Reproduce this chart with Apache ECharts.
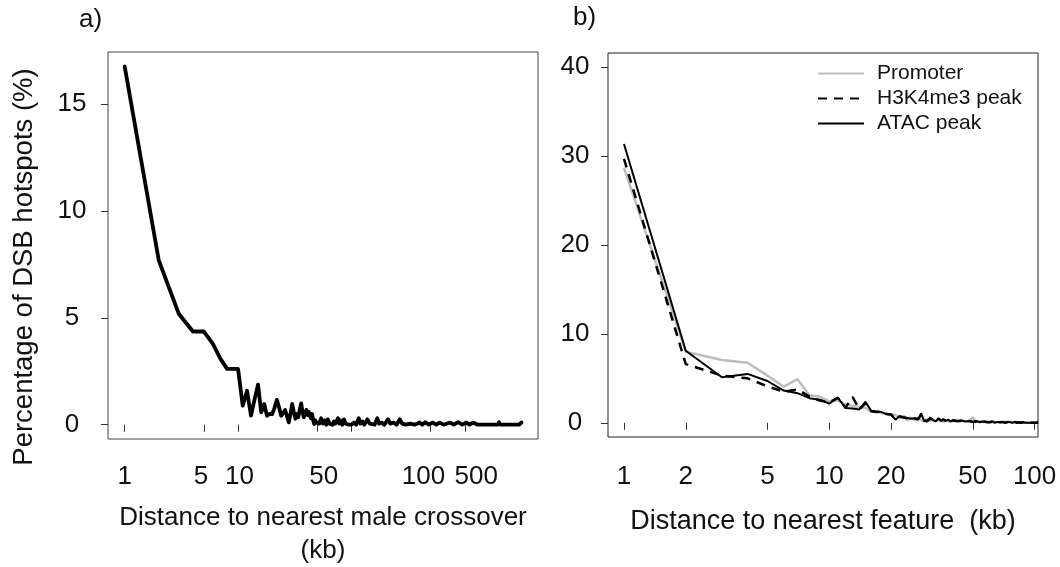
<!DOCTYPE html>
<html>
<head>
<meta charset="utf-8">
<script src="https://cdn.jsdelivr.net/npm/echarts@6/dist/echarts.min.js"></script>
<style>html,body{margin:0;padding:0;background:#fff;}#c{width:1060px;height:567px;}</style>
</head>
<body>
<div id="c"></div>
<script>
// Panel a: distance to nearest male crossover (kb) vs percentage of DSB hotspots
const xA = [1,2,3,4,5,6,7,8,9,10,11,12,13,14,15,16,17,18,19,20,21,22,23,24,25,26,27,28,29,30,31,32,33,34,35,36,37,38,39,40,41,42,43,44,45,46,47,48,49,50,
  52,54,56,58,60,62,64,66,68,70,72,74,76,78,80,83,86,89,92,95,98,100,105,110,116,120,125,130,138,145,150,160,169,175,185,195,210,220,235,250,267,280,300,330,360,400,420,450,480,520,560,600,650,740,800,870,950,1030,1100,1180,1300,1950,2000,2060,3000,3162];
const yA = [16.77,7.69,5.19,4.36,4.36,3.78,3.08,2.61,2.61,2.61,0.89,1.59,0.42,1.2,1.87,0.58,0.97,0.42,0.5,0.5,0.8,1.16,0.8,0.42,0.55,0.69,0.4,0.11,0.5,0.97,0.6,0.28,0.5,0.35,0.7,1.0,0.6,0.34,0.5,0.69,0.45,0.6,0.42,0.3,0.5,0.2,0.03,0.2,0.1,0.15,
  0.05,0.3,0.05,0.2,0.0,0.25,0.05,0.1,0.0,0.15,0.05,0.0,0.3,0.05,0.2,0.0,0.25,0.05,0.1,0.0,0.05,0.0,0.1,0.0,0.3,0.05,0.15,0.0,0.25,0.05,0.1,0.0,0.3,0.05,0.1,0.0,0.25,0.05,0.1,0.0,0.25,0.05,0.0,0.05,0.0,0.1,0.0,0.12,0.0,0.1,0.0,0.1,0.0,0.1,0.0,0.12,0.0,0.1,0.0,0.1,0.0,0.0,0.12,0.0,0.0,0.1];
const xTicksA = [1,5,10,50,100,500,1000];
const xLabelAtA = [1,4.7,10.3,57,432,1262];
const xLabelTextA = ['1','5','10','50','100','500'];
const yTicksA = [0,5,10,15];

// Panel b: distance to nearest feature (kb)
const xB = [1,2,3,4,5,6,7,8,9,10,11,12,13,14,15,16,17,18,19,20,21,22,23,24,25,26,27,28,29,30,31,32,33,34,35,36,37,38,39,40,
  42,44,46,48,50,52,54,56,58,60,62,64,66,68,70,72,74,76,78,80,82,84,86,88,90,92,94,96,98,100,102,104];
const promoter = [28.7,8.0,7.06,6.76,5.3,4.07,4.9,3.1,2.95,2.4,2.5,2.1,1.9,1.8,1.7,1.25,1.3,1.1,0.95,0.95,0.9,0.5,0.8,0.25,0.6,0.3,0.5,0.3,0.2,0.4,0.2,0.35,0.15,0.3,0.2,0.1,0.3,0.2,0.1,0.25,
  0.1,0.3,0.15,0.2,0.6,0.1,0.2,0.1,0.15,0.05,0.2,0.1,0.05,0.1,0.0,0.1,0.05,0.15,0.0,0.05,0.1,0.0,0.05,0.1,0.0,0.05,0.0,0.1,0.0,0.05,0.0,0.05];
const h3k4me3 = [29.7,6.6,5.3,5.0,4.1,3.5,3.75,2.95,2.5,2.3,2.8,1.7,2.9,1.5,2.2,1.3,1.2,1.3,1.0,0.9,0.4,0.7,0.6,0.5,0.4,0.5,0.4,0.9,0.25,0.2,0.5,0.3,0.2,0.45,0.25,0.35,0.2,0.3,0.15,0.25,
  0.2,0.2,0.15,0.2,0.1,0.15,0.05,0.15,0.1,0.05,0.1,0.0,0.1,0.05,0.1,0.0,0.1,0.05,0.0,0.1,0.0,0.05,0.0,0.05,0.0,0.1,0.0,0.05,0.0,0.1,0.0,0.05];
const atac = [31.36,8.1,5.12,5.5,4.7,3.62,3.33,2.77,2.6,2.15,2.84,1.65,1.6,1.5,2.35,1.35,1.27,1.2,0.97,0.95,0.35,0.75,0.6,0.55,0.45,0.5,0.35,1.05,0.2,0.15,0.6,0.3,0.15,0.5,0.25,0.4,0.2,0.35,0.15,0.3,
  0.2,0.25,0.15,0.2,0.1,0.2,0.05,0.15,0.1,0.05,0.15,0.0,0.1,0.05,0.1,0.0,0.1,0.05,0.0,0.1,0.0,0.05,0.0,0.05,0.0,0.1,0.0,0.05,0.0,0.1,0.0,0.05];
const xTicksB = [1,2,5,10,20,50,100];
const yTicksB = [0,10,20,30,40];
const seriesNamesB = ['Promoter','H3K4me3 peak','ATAC peak'];

const FONT = "'Liberation Sans', Arial, sans-serif";
const pair = (xs, ys) => xs.map((x, i) => [x, ys[i]]);

const chart = echarts.init(document.getElementById('c'), null, {renderer: 'canvas'});
const tickStyle = {show: true, length: 7, lineStyle: {color: '#333', width: 1}};
chart.setOption({
  animation: false,
  backgroundColor: '#fff',
  textStyle: {fontFamily: FONT},
  grid: [
    {left: 108, top: 52, width: 430, height: 387, show: true, borderColor: '#444', borderWidth: 1, backgroundColor: 'transparent',
      containLabel: false, outerBoundsMode: 'none'},
    {left: 608, top: 53, width: 430, height: 384, show: true, borderColor: '#222', borderWidth: 1, backgroundColor: 'transparent',
      containLabel: false, outerBoundsMode: 'none'}
  ],
  xAxis: [
    {type: 'log', logBase: 10, gridIndex: 0, min: 0.713, max: 4416,
      axisLine: {show: false}, splitLine: {show: false},
      axisTick: Object.assign({customValues: xTicksA}, tickStyle),
      axisLabel: {customValues: xLabelAtA, margin: 25, fontSize: 26, color: '#111', fontFamily: FONT,
        formatter: v => { const i = xLabelAtA.findIndex(a => Math.abs(a - v) / a < 1e-6); return i >= 0 ? xLabelTextA[i] : ''; }},
      name: 'Distance to nearest male crossover\n(kb)', nameLocation: 'middle', nameGap: 62,
      nameTextStyle: {fontSize: 26, color: '#111', lineHeight: 33, fontFamily: FONT}},
    {type: 'log', logBase: 10, gridIndex: 1, min: 0.836, max: 103.9,
      axisLine: {show: false}, splitLine: {show: false},
      axisTick: Object.assign({customValues: xTicksB}, tickStyle),
      axisLabel: {customValues: xTicksB, margin: 27, fontSize: 26, color: '#111', fontFamily: FONT, formatter: v => String(Math.round(v))},
      name: 'Distance to nearest feature  (kb)', nameLocation: 'middle', nameGap: 71,
      nameTextStyle: {fontSize: 27, color: '#111', fontFamily: FONT}}
  ],
  yAxis: [
    {type: 'value', gridIndex: 0, min: -0.67, max: 17.44,
      axisLine: {show: false}, splitLine: {show: false},
      axisTick: Object.assign({customValues: yTicksA}, tickStyle),
      axisLabel: {customValues: yTicksA, align: 'center', margin: 36, fontSize: 26, color: '#111', fontFamily: FONT}},
    {type: 'value', gridIndex: 1, min: -1.6, max: 41.6,
      axisLine: {show: false}, splitLine: {show: false},
      axisTick: Object.assign({customValues: yTicksB}, tickStyle),
      axisLabel: {customValues: yTicksB, align: 'center', margin: 33, fontSize: 26, color: '#111', fontFamily: FONT}}
  ],
  legend: {
    left: 812, top: 58, orient: 'vertical', itemWidth: 46, itemHeight: 14, itemGap: 4,
    data: seriesNamesB,
    itemStyle: {opacity: 0},
    textStyle: {fontSize: 21, color: '#111', fontFamily: FONT, lineHeight: 21, padding: [0, 0, 0, 8]}
  },
  graphic: [
    {type: 'text', left: 79, top: 7, style: {text: 'a)', fontSize: 26, fill: '#111', fontFamily: FONT}},
    {type: 'text', left: 573, top: 5, style: {text: 'b)', fontSize: 26, fill: '#111', fontFamily: FONT}},
    {type: 'text', x: 24, y: 267, rotation: Math.PI / 2,
      style: {text: 'Percentage of DSB hotspots (%)', fontSize: 27.5, fill: '#111', fontFamily: FONT, align: 'center', verticalAlign: 'middle'}}
  ],
  series: [
    {type: 'line', name: 'a', xAxisIndex: 0, yAxisIndex: 0, data: pair(xA, yA), symbol: 'none',
      lineStyle: {color: '#000', width: 3.8, join: 'round', cap: 'round'}},
    {type: 'line', name: 'Promoter', xAxisIndex: 1, yAxisIndex: 1, data: pair(xB, promoter), symbol: 'none',
      lineStyle: {color: '#bdbdbd', width: 2.5}, itemStyle: {color: '#bdbdbd'}},
    {type: 'line', name: 'H3K4me3 peak', xAxisIndex: 1, yAxisIndex: 1, data: pair(xB, h3k4me3), symbol: 'none',
      lineStyle: {color: '#000', width: 2.5, type: [9, 7]}, itemStyle: {color: '#000'}},
    {type: 'line', name: 'ATAC peak', xAxisIndex: 1, yAxisIndex: 1, data: pair(xB, atac), symbol: 'none',
      lineStyle: {color: '#000', width: 2}, itemStyle: {color: '#000'}}
  ]
});
</script>
</body>
</html>
